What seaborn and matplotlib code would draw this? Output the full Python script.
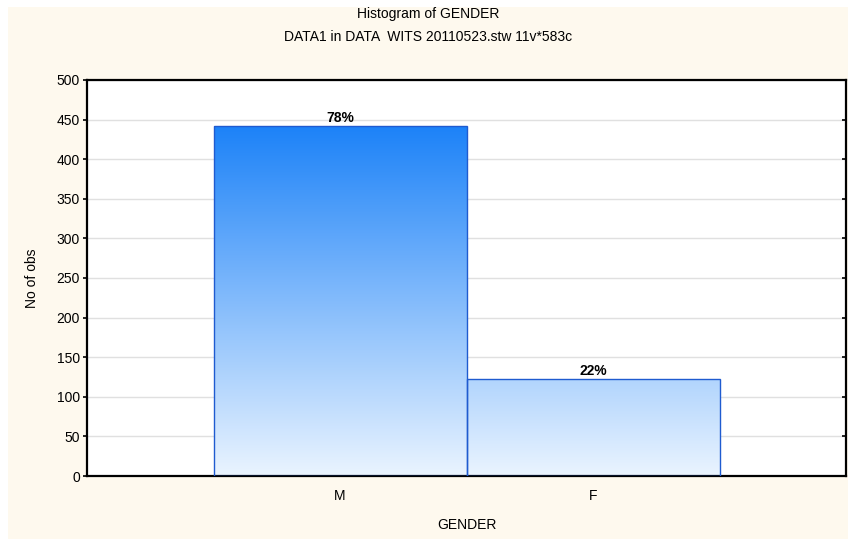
import numpy as np
import pandas as pd
import matplotlib
matplotlib.use("Agg")
import matplotlib.pyplot as plt
import seaborn as sns
from matplotlib.colors import LinearSegmentedColormap
from matplotlib.patches import Rectangle

categories = ["M", "F"]
counts = [442, 122]
y_ticks = [0, 50, 100, 150, 200, 250, 300, 350, 400, 450, 500]

title = "Histogram of GENDER"
subtitle = "DATA1 in DATA  WITS 20110523.stw 11v*583c"

CREAM = "#FEF9EE"
EDGE = "#1F5BD0"
grad = LinearSegmentedColormap.from_list("bargrad", ["#EAF4FF", "#1C82F8"])

sns.set_theme(style="white")
plt.rcParams["font.family"] = ["Liberation Sans Narrow", "Liberation Sans", "DejaVu Sans"]
plt.rcParams["text.color"] = "black"
plt.rcParams["axes.labelcolor"] = "black"

df = pd.DataFrame({"gender": categories, "n": counts})
pct = [c / sum(counts) * 100 for c in counts]

fig = plt.figure(figsize=(8.48, 5.39), dpi=100)
fig.patch.set_facecolor("white")
fig.add_artist(Rectangle((8 / 848, 0), 1, 1 - 7 / 539, transform=fig.transFigure,
                         facecolor=CREAM, edgecolor="none", zorder=-10))

ax = fig.add_axes([87 / 848, 1 - 476 / 539, (846 - 87) / 848, (476 - 80) / 539])
ax.set_facecolor("white")

sns.barplot(data=df, x="gender", y="n", order=categories, width=1.0,
            facecolor="none", edgecolor=EDGE, linewidth=1.0, ax=ax, zorder=3)

vmax = max(counts)
for i, p in enumerate(ax.patches):
    x0, w, h = p.get_x(), p.get_width(), p.get_height()
    g = np.linspace(0, h, 256).reshape(-1, 1)
    im = ax.imshow(g, cmap=grad, vmin=0, vmax=vmax, origin="lower", aspect="auto",
                   extent=[x0, x0 + w, 0, h], zorder=2, interpolation="bilinear")
    im.set_clip_path(p)
    ax.text(x0 + w / 2, h + 1.5, f"{pct[i]:.0f}%", ha="center", va="bottom",
            fontsize=10, fontweight="bold", color="black", zorder=4)

ax.set_xlim(-1, 2)
ax.set_ylim(0, 500)
ax.set_yticks(y_ticks)
ax.yaxis.grid(True, color="#E0E0E0", linewidth=1.0, zorder=0)
ax.set_axisbelow(True)

for s in ax.spines.values():
    s.set_visible(True)
    s.set_color("black")
    s.set_linewidth(1.6)

ax.tick_params(axis="y", which="both", left=True, right=True, direction="out",
               length=3, width=1.2, labelsize=10, pad=2, colors="black")
ax.tick_params(axis="x", bottom=True, direction="in", length=3, width=1.2,
               labelsize=10, pad=9, colors="black")
for t in ax.yaxis.get_major_ticks():
    t.tick2line.set_marker(matplotlib.lines.TICKLEFT)

ax.set_xlabel("GENDER", fontsize=10, labelpad=11)
ax.set_ylabel("No of obs", fontsize=10, labelpad=13)

fig.text(0.5 + 8 / 848 / 2, 1 - 14 / 539, title, ha="center", va="center", fontsize=10)
fig.text(0.5 + 8 / 848 / 2, 1 - 37 / 539, subtitle, ha="center", va="center", fontsize=10)

fig.savefig("out.png", dpi=100, facecolor=fig.get_facecolor())
